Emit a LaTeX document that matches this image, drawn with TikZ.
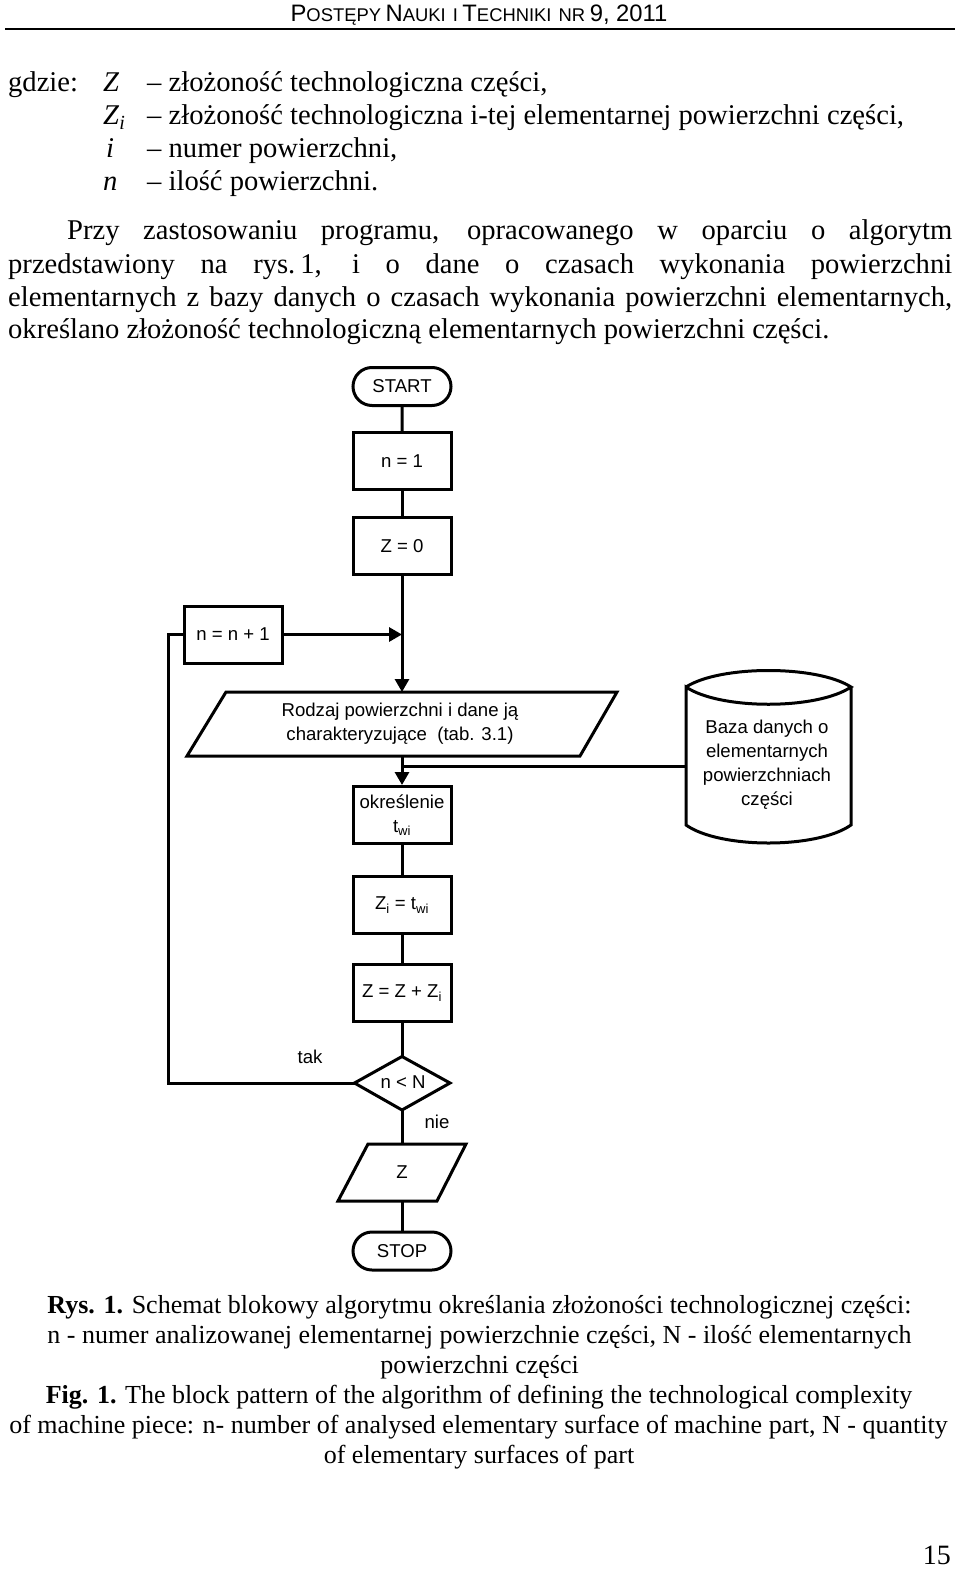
\documentclass[tikz,border=0pt]{standalone}
\usepackage{fontspec}
\setmainfont{Liberation Serif}
\newfontfamily\sansf{Liberation Sans}
\usetikzlibrary{shapes.misc,arrows.meta}
\newcommand\hbig{\sansf\fontsize{23.8}{26}\selectfont}
\newcommand\hsml{\sansf\fontsize{18.4}{26}\selectfont}
\tikzset{
 body/.style={inner sep=0pt, anchor=base west, font=\fontsize{28.6}{33}\selectfont},
 capt/.style={inner sep=0pt, anchor=base, font=\fontsize{26}{30}\selectfont},
 fc/.style={font=\sansf\fontsize{18.6}{24}\selectfont},
 box/.style={fc, draw, line width=3pt, minimum width=98pt, minimum height=57pt, inner sep=0pt, align=center},
 term/.style={fc, draw, rounded rectangle, line width=3pt, minimum width=98pt, minimum height=38pt, inner sep=0pt},
 conn/.style={line width=3pt, line join=miter},
 arr/.style={line width=3pt, -{Triangle[length=13pt,width=14pt]}},
 outl/.style={line width=3pt, line join=miter},
 lbl/.style={fc, inner sep=0pt},
}
\begin{document}
\begin{tikzpicture}[x=1pt,y=-1pt]
\fill[white] (0,0) rectangle (960,1570);
\useasboundingbox (0,0) rectangle (960,1570);

% header
\node[inner sep=0pt, anchor=base] (hdr) at (479,21.5) {{\hbig P}{\hsml OSTĘPY}\hspace{2pt} {\hbig N}{\hsml AUKI\hspace{2pt} I}\hspace{2pt} {\hbig T}{\hsml ECHNIKI\hspace{2pt} NR}\hspace{2pt} {\hbig 9, 2011}};
\draw[line width=2pt] (5,29.5) -- (955,29.5);

% gdzie block
\node[body] (g0) at (8,92) {gdzie:};
\node[body] (g1s) at (103,92) {\textit{Z}};
\node[body] (g1) at (147,92) {– złożoność technologiczna części,};
\node[body] (g2s) at (103,125) {\textit{Z}\textsubscript{\textit{i}}};
\node[body] (g2) at (147,125) {– złożoność technologiczna i-tej elementarnej powierzchni części,};
\node[body] (g3s) at (106,158) {\textit{i}};
\node[body] (g3) at (147,158) {– numer powierzchni,};
\node[body] (g4s) at (103,191) {\textit{n}};
\node[body] (g4) at (147,191) {– ilość powierzchni.};

% paragraph
\node[body] (p1) at (67,240) {\makebox[885pt][s]{Przy zastosowaniu programu, opracowanego w oparciu o algorytm}};
\node[body] (p2) at (8,273) {\makebox[944pt][s]{przedstawiony na rys.\hspace{5pt}1, i o dane o czasach wykonania powierzchni}};
\node[body] (p3) at (8,306) {\makebox[944pt][s]{elementarnych z bazy danych o czasach wykonania powierzchni elementarnych,}};
\node[body] (p4) at (8,338) {określano złożoność technologiczną elementarnych powierzchni części.};

% flowchart
\node[term] (start) at (402,386.5) {START};
\node[box] (n1) at (402,461) {n = 1};
\node[box] (z0) at (402,546) {Z = 0};
\node[box] (nn1) at (233,634.5) {n = n + 1};

\node[fc, align=center, inner sep=0pt, minimum height=64pt] (rodz) at (400,724) {Rodzaj powierzchni i dane ją\\charakteryzujące\ \ (tab. 3.1)};
\coordinate (rodzT) at (402,692);
\coordinate (rodzB) at (402,756);
\draw[outl] (226,692) -- (617,692) -- (580,756) -- (187,756) -- cycle;

\draw[outl] (686,687) .. controls (720,665) and (817,665) .. (851,687)
  .. controls (817,710) and (720,710) .. (686,687) -- (686,825)
  .. controls (720,849) and (817,849) .. (851,825) -- (851,687);
\node[fc, align=center, inner sep=0pt] (db) at (767,765) {Baza danych o\\elementarnych\\powierzchniach\\części};
\coordinate (dbL) at (686,766);

\node[box] (okr) at (402,815) {określenie\\t\textsubscript{wi}};
\node[box] (zi) at (402,905) {Z\textsubscript{i} = t\textsubscript{wi}};
\node[box] (zz) at (402,993) {Z = Z + Z\textsubscript{i}};

\draw[outl] (402,1056.5) -- (450,1083) -- (402,1110) -- (354.5,1083) -- cycle;
\node[fc, inner sep=0pt] (dec) at (403,1082) {n < N};
\coordinate (decT) at (402,1056.5);
\coordinate (decB) at (402,1110);
\coordinate (decL) at (354.5,1083);
\coordinate (loopB) at (168,1083);
\coordinate (loopT) at (168,634.5);

\node[fc, inner sep=0pt, minimum height=57pt] (out) at (402,1172.5) {Z};
\draw[outl] (368,1144) -- (466,1144) -- (437,1201) -- (338,1201) -- cycle;

\node[term] (stop) at (402,1251) {STOP};

\node[lbl] (tak) at (310,1057) {tak};
\node[lbl] (nie) at (437,1122) {nie};

% connectors
\draw[conn] (start) -- (n1);
\draw[conn] (n1) -- (z0);
\draw[arr] (z0.south) -- (rodzT);
\draw[arr] (nn1.east) -- (nn1.east -| z0.south);
\draw[arr] (rodzB) -- (okr.north);
\draw[conn] (dbL) -- (dbL -| rodzB);
\draw[conn] (okr) -- (zi);
\draw[conn] (zi) -- (zz);
\draw[conn] (zz.south) -- (decT);
\draw[conn] (decL) -- (loopB) -- (loopT) -- (nn1.west);
\draw[conn] (decB) -- (out.north);
\draw[conn] (out.south) -- (stop.north);

% caption
\node[capt] (c1) at (479.5,1313) {\textbf{Rys. 1.} Schemat blokowy algorytmu określania złożoności technologicznej części:};
\node[capt] (c2) at (479.5,1343) {n - numer analizowanej elementarnej powierzchnie części, N - ilość elementarnych};
\node[capt] (c3) at (479.5,1373) {powierzchni części};
\node[capt] (c4) at (479,1403) {\textbf{Fig. 1.} The block pattern of the algorithm of defining the technological complexity};
\node[capt] (c5) at (478.5,1433) {of machine piece: n- number of analysed elementary surface of machine part, N - quantity};
\node[capt] (c6) at (479,1463) {of elementary surfaces of part};

\node[inner sep=0pt, anchor=base east, font=\fontsize{28}{33}\selectfont] (pg) at (951,1564) {15};
\end{tikzpicture}
\end{document}
